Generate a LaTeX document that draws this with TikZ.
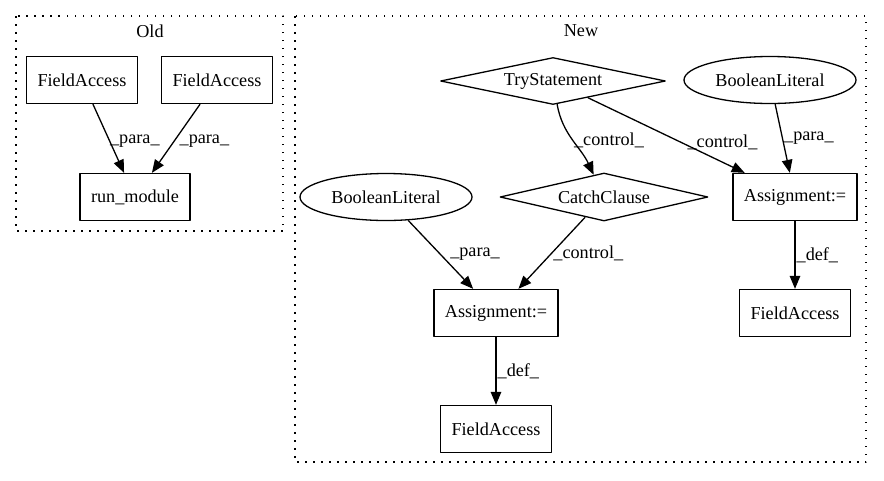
\documentclass[tikz,border=0pt]{standalone}
\usepackage{fontspec}
\setmainfont{Liberation Serif}
\usetikzlibrary{shapes.geometric,arrows.meta}

\begin{document}
\begin{tikzpicture}[x=1pt,y=1pt,line width=1.3pt,line join=round,
    >={Triangle[length=13pt,width=10.5pt]},
    font=\fontsize{18.2}{21}\selectfont,
    box/.style={draw,rectangle,inner xsep=11pt,inner ysep=0pt,minimum height=47pt},
    lit/.style={draw,ellipse,inner sep=0pt,minimum width=172pt,minimum height=47pt},
    cond/.style={draw,diamond,aspect=4.5,inner sep=0pt},
    lbl/.style={anchor=west,inner sep=1pt},
    cluster/.style={draw,dash pattern=on 1.5pt off 6.5pt}]
  \useasboundingbox (0,0) rectangle (884,-480);

  % clusters
  \draw [cluster] (16,-16) rectangle (283,-231);
  \draw [cluster] (295,-16) rectangle (866,-462);
  \node (oldname) at (150,-31) {Old};
  \node (newname) at (581,-31) {New};

  % old version
  \node [box] (oldfa1) at (82,-80) {FieldAccess};
  \node [box] (oldfa2) at (217,-80) {FieldAccess};
  \node [box] (run) at (135,-197) {run\_module};
  \draw [->] (oldfa1) -- node [lbl,yshift=-3pt] {\_para\_} (run);
  \draw [->] (oldfa2) -- node [lbl,yshift=-3pt,xshift=2pt] {\_para\_} (run);

  % new version
  \node [cond,minimum width=225pt,minimum height=47pt] (try) at (553,-81) {TryStatement};
  \node [lit] (bool2) at (770,-80) {BooleanLiteral};
  \node [lit] (bool1) at (386,-197) {BooleanLiteral};
  \node [cond,minimum width=208pt,minimum height=48pt] (catch) at (604,-197) {CatchClause};
  \node [box] (asg2) at (795,-197) {Assignment:=};
  \node [box] (asg1) at (496,-313) {Assignment:=};
  \node [box] (fa2) at (795,-313) {FieldAccess};
  \node [box] (fa1) at (496,-429) {FieldAccess};

  \draw [->] (try) to [out=-80,in=115] node [lbl] {\_control\_} (catch);
  \draw [->] (try) -- node [lbl,pos=0.6,xshift=4pt] {\_control\_} (asg2);
  \draw [->] (bool2) -- node [lbl] {\_para\_} (asg2);
  \draw [->] (asg2) -- node [lbl] {\_def\_} (fa2);
  \draw [->] (bool1) -- node [lbl,xshift=8pt] {\_para\_} (asg1);
  \draw [->] (catch) -- node [lbl] {\_control\_} (asg1);
  \draw [->] (asg1) -- node [lbl] {\_def\_} (fa1);
\end{tikzpicture}
\end{document}
